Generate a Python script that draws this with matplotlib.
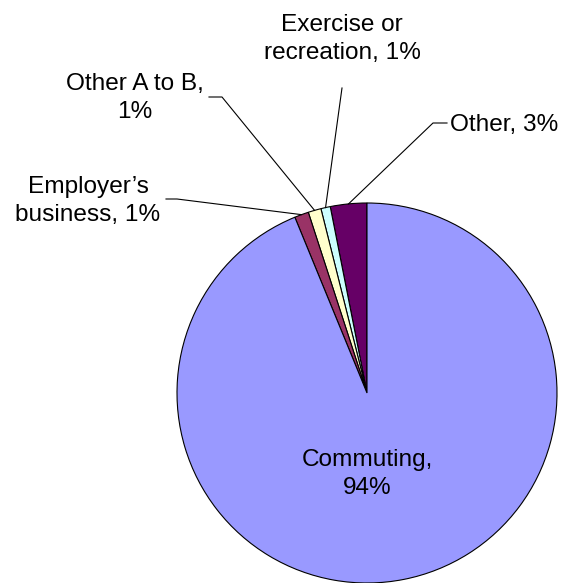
import numpy as np
import matplotlib
matplotlib.use("Agg")
import matplotlib.pyplot as plt

plt.rcParams['font.family'] = ['Liberation Sans', 'DejaVu Sans']

# data
purposes = ["Other", "Exercise or recreation", "Other A to B", "Employer\u2019s business", "Commuting"]
shares = [3.1, 0.8, 1.1, 1.2, 93.8]
colours = ["#660066", "#CCFFFF", "#FFFFCC", "#993366", "#9999FF"]
label_texts = ["Other, 3%", "Exercise or\nrecreation, 1%", "Other A to B,\n1%",
               "Employer\u2019s\nbusiness, 1%", "Commuting,\n94%"]

# layout (pixel coords, y up)
W, H = 563, 583
centre = (367, 190)
radius = 190
# text position, alignment, leader start, leader elbow
label_layout = {
    "Other": ((450, 458), "left", (447, 460), (433, 460)),
    "Exercise or recreation": ((342, 544), "center", (342, 495), None),
    "Other A to B": ((135, 485), "center", (209, 486), (222, 486)),
    "Employer\u2019s business": ((88, 382), "center", (166, 384), (177, 384)),
    "Commuting": ((367, 109), "center", None, None),
}

fig = plt.figure(figsize=(W / 100, H / 100), dpi=100)
ax = fig.add_axes([0, 0, 1, 1])

wedges, _ = ax.pie(shares, colors=colours, startangle=90, counterclock=True,
                   center=centre, radius=radius, frame=True,
                   wedgeprops=dict(edgecolor="black", linewidth=0.8))

for wedge, name, text in zip(wedges, purposes, label_texts):
    (tx, ty), ha, start, elbow = label_layout[name]
    ax.text(tx, ty, text, ha=ha, va="center", fontsize=17.6,
            multialignment="center", linespacing=1.4)
    if start is None:
        continue
    # leader line ends on the rim at the wedge's middle angle
    mid = np.deg2rad((wedge.theta1 + wedge.theta2) / 2)
    rim = (centre[0] + radius * np.cos(mid), centre[1] + radius * np.sin(mid))
    pts = [start] + ([elbow] if elbow else []) + [rim]
    xs, ys = zip(*pts)
    ax.plot(xs, ys, color="black", linewidth=0.8)

ax.set_xlim(0, W)
ax.set_ylim(0, H)
ax.set_aspect("equal")
ax.axis("off")

fig.savefig("out.png", dpi=100)
